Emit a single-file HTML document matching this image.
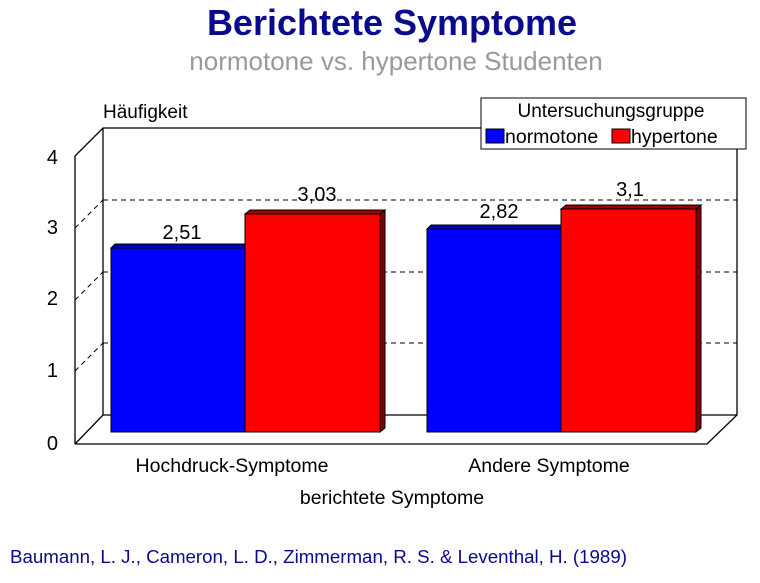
<!DOCTYPE html>
<html><head><style>
body{margin:0;background:#fff;}
svg text{font-family:"Liberation Sans",Arial,sans-serif;}
</style></head><body>
<svg width="760" height="578" xmlns="http://www.w3.org/2000/svg">
<text x="392" y="35" text-anchor="middle" font-size="36" font-weight="bold" fill="#0a0a8c">Berichtete Symptome</text>
<text x="396" y="70" text-anchor="middle" font-size="26" fill="#999">normotone vs. hypertone Studenten</text>
<text x="103" y="118" font-size="19">Häufigkeit</text>
<!-- walls -->
<polyline points="75,444 75,156 103,128 737,128 737,415 707,444 75,444" fill="none" stroke="#000" stroke-width="1.3"/>
<polyline points="75,444 103,415 737,415" fill="none" stroke="#000" stroke-width="1.3"/>
<line x1="103" y1="128" x2="103" y2="415" stroke="#000" stroke-width="1.3"/>
<g stroke="#000" stroke-dasharray="5,4" stroke-width="1">
<line x1="103" y1="200" x2="737" y2="200"/><line x1="103" y1="272" x2="737" y2="272"/><line x1="103" y1="343" x2="737" y2="343"/>
<line x1="75" y1="228" x2="103" y2="200"/><line x1="75" y1="300" x2="103" y2="272"/><line x1="75" y1="371" x2="103" y2="343"/>
</g>
<g font-size="20">
<text x="58" y="164" text-anchor="end">4</text><text x="58" y="234" text-anchor="end">3</text>
<text x="58" y="305" text-anchor="end">2</text><text x="58" y="377" text-anchor="end">1</text>
<text x="58" y="450" text-anchor="end">0</text>
</g>
<!-- bars -->
<g stroke="#000" stroke-width="1">
<polygon points="111,248 115,244 249,244 245,248" fill="#0000c0"/>
<rect x="111" y="248" width="134" height="184" fill="#0000ff"/>
<polygon points="245,214 250,210 385,210 380,214" fill="#a00000"/>
<polygon points="380,214 385,210 385,428 380,432" fill="#800000"/>
<rect x="245" y="214" width="135" height="218" fill="#ff0000"/>
<polygon points="427,229 431,225 565,225 561,229" fill="#0000c0"/>
<rect x="427" y="229" width="134" height="203" fill="#0000ff"/>
<polygon points="561,209 566,205 701,205 696,209" fill="#a00000"/>
<polygon points="696,209 701,205 701,428 696,432" fill="#800000"/>
<rect x="561" y="209" width="135" height="223" fill="#ff0000"/>
</g>
<g font-size="20" text-anchor="middle">
<text x="182" y="239">2,51</text><text x="317" y="201">3,03</text>
<text x="499" y="218">2,82</text><text x="630" y="196">3,1</text>
</g>
<!-- legend -->
<rect x="481" y="98" width="265" height="51" fill="#fff" stroke="#000"/>
<text x="611" y="117" text-anchor="middle" font-size="19">Untersuchungsgruppe</text>
<rect x="486" y="129" width="18" height="14" fill="#0000ff" stroke="#000"/>
<text x="505" y="143" font-size="19.5">normotone</text>
<rect x="612" y="129" width="18" height="14" fill="#ff0000" stroke="#000"/>
<text x="631" y="143" font-size="19.5">hypertone</text>
<g font-size="19.5" text-anchor="middle">
<text x="232" y="472">Hochdruck-Symptome</text>
<text x="549" y="472">Andere Symptome</text>
<text x="392" y="504">berichtete Symptome</text>
</g>
<text x="10" y="563" font-size="18.7" fill="#0a0a8c">Baumann, L. J., Cameron, L. D., Zimmerman, R. S. &amp; Leventhal, H. (1989)</text>
</svg>
</body></html>
